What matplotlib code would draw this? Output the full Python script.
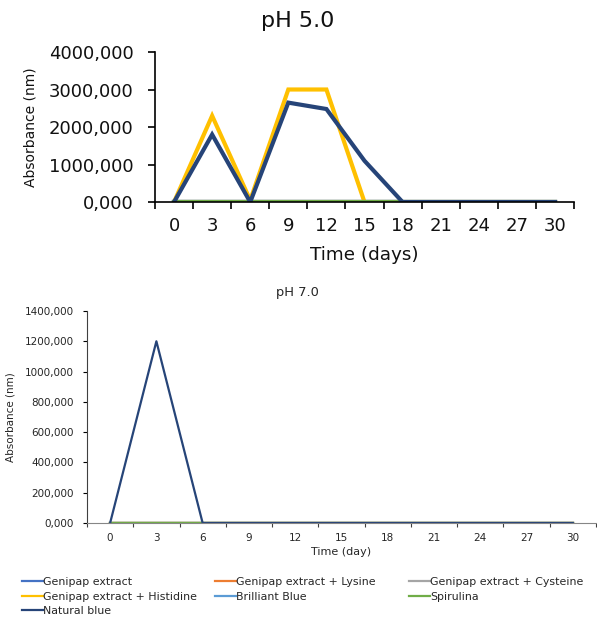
import matplotlib
matplotlib.use("Agg")
import matplotlib.pyplot as plt
from matplotlib.ticker import FuncFormatter, FixedLocator, NullFormatter
import numpy as np

days = [0, 3, 6, 9, 12, 15, 18, 21, 24, 27, 30]
series_names = ["Genipap extract", "Genipap extract + Lysine", "Genipap extract + Cysteine",
                "Genipap extract + Histidine", "Brilliant Blue", "Spirulina", "Natural blue"]
colors = ["#4472C4", "#ED7D31", "#A5A5A5", "#FFC000", "#5B9BD5", "#70AD47", "#264478"]

# pH 5.0
ph5_genipap = [0, 0, 0, 0, 0, 0, 0, 0, 0, 0, 0]
ph5_lysine = [0, 0, 0, 0, 0, 0, 0, 0, 0, 0, 0]
ph5_cysteine = [0, 0, 0, 0, 0, 0, 0, 0, 0, 0, 0]
ph5_histidine = [0, 2300, 50, 3000, 3000, 0, 0, 0, 0, 0, 0]
ph5_brilliant = [0, 0, 0, 0, 0, 0, 0, 0, 0, 0, 0]
ph5_spirulina = [0, 0, 0, 0, 0, 0, 0, 0, 0, 0, 0]
ph5_natural = [0, 1800, 0, 2650, 2480, 1100, 0, 0, 0, 0, 0]

# pH 7.0
ph7_genipap = [0, 0, 0, 0, 0, 0, 0, 0, 0, 0, 0]
ph7_lysine = [0, 0, 0, 0, 0, 0, 0, 0, 0, 0, 0]
ph7_cysteine = [0, 0, 0, 0, 0, 0, 0, 0, 0, 0, 0]
ph7_histidine = [0, 0, 0, 0, 0, 0, 0, 0, 0, 0, 0]
ph7_brilliant = [0, 0, 0, 0, 0, 0, 0, 0, 0, 0, 0]
ph7_spirulina = [2, 2, 2, 2, 2, 2, 2, 2, 2, 2, 2]
ph7_natural = [0, 1200, 0, 0, 0, 0, 0, 0, 0, 0, 0]

ph5 = [ph5_genipap, ph5_lysine, ph5_cysteine, ph5_histidine, ph5_brilliant, ph5_spirulina, ph5_natural]
ph7 = [ph7_genipap, ph7_lysine, ph7_cysteine, ph7_histidine, ph7_brilliant, ph7_spirulina, ph7_natural]

plt.rcParams['font.family'] = ['DejaVu Sans']
TXT1 = '#111111'
TXT = '#262626'

fmt = FuncFormatter(lambda v, p: f"{v:.3f}".replace('.', ','))

fig = plt.figure(figsize=(5.97, 6.18), dpi=100)

x = np.arange(len(days))

# ---- top chart
ax1 = fig.add_axes([0.2596, 0.673, 0.7019, 0.2429])
for vals, c in zip(ph5, colors):
    ax1.plot(x, vals, color=c, lw=3.0, solid_joinstyle='miter')
ax1.set_xlim(-0.5, len(days) - 0.5)
ax1.set_ylim(0, 4000)
ax1.set_yticks([0, 1000, 2000, 3000, 4000])
ax1.yaxis.set_major_formatter(fmt)
ax1.xaxis.set_major_locator(FixedLocator(np.arange(-0.5, len(days), 1.0)))
ax1.xaxis.set_major_formatter(NullFormatter())
ax1.xaxis.set_minor_locator(FixedLocator(x))
ax1.set_xticklabels([str(d) for d in days], minor=True)
ax1.tick_params(axis='x', which='minor', length=0, pad=11, labelsize=13, labelcolor=TXT1)
ax1.tick_params(axis='x', which='major', length=5, width=1.2, direction='out')
ax1.tick_params(axis='y', length=5, width=1.2, labelsize=13, pad=10.5, labelcolor=TXT1)
for s in ['top', 'right']:
    ax1.spines[s].set_visible(False)
for s in ['left', 'bottom']:
    ax1.spines[s].set_linewidth(1.2)
fig.text(0.499, 0.966, "pH 5.0", fontsize=16, ha='center', va='center', color=TXT1)
ax1.set_xlabel("Time (days)", fontsize=13.2, labelpad=8, color=TXT1)
ax1.set_ylabel("Absorbance (nm)", fontsize=10, labelpad=8, color=TXT1)

# ---- bottom chart
ax2 = fig.add_axes([0.1457, 0.1537, 0.8525, 0.3431])
handles = []
for vals, c, n in zip(ph7, colors, series_names):
    h, = ax2.plot(x, vals, color=c, lw=1.6, label=n)
    handles.append(h)
ax2.set_xlim(-0.5, len(days) - 0.5)
ax2.set_ylim(0, 1400)
ax2.set_yticks(np.arange(0, 1401, 200))
ax2.yaxis.set_major_formatter(fmt)
ax2.xaxis.set_major_locator(FixedLocator(np.arange(-0.5, len(days), 1.0)))
ax2.xaxis.set_major_formatter(NullFormatter())
ax2.xaxis.set_minor_locator(FixedLocator(x))
ax2.set_xticklabels([str(d) for d in days], minor=True)
ax2.tick_params(axis='x', which='minor', length=0, pad=7, labelsize=7.5, labelcolor=TXT)
ax2.tick_params(axis='x', which='major', length=3, width=0.8, direction='out', color='#404040')
ax2.tick_params(axis='y', length=3, width=0.8, labelsize=7.5, pad=6.5, labelcolor=TXT)
for s in ['top', 'right']:
    ax2.spines[s].set_visible(False)
ax2.spines['bottom'].set_color('#868686')
ax2.spines['left'].set_color('#404040')
fig.text(0.499, 0.526, "pH 7.0", fontsize=9.4, ha='center', va='center', color=TXT)
ax2.set_xlabel("Time (day)", fontsize=8, labelpad=3, color=TXT)
ax2.set_ylabel("Absorbance (nm)", fontsize=7.5, labelpad=6.5, color=TXT)

# legend: three columns placed separately
columns = [[0, 3, 6], [1, 4], [2, 5]]
col_x = [0.0369, 0.360, 0.685]
for idxs, cx in zip(columns, col_x):
    fig.legend([handles[i] for i in idxs], [series_names[i] for i in idxs],
               ncol=1, loc='upper left', bbox_to_anchor=(cx, 0.066), frameon=False,
               fontsize=7.9, handlelength=1.9, handletextpad=0.0,
               labelspacing=0.4, borderaxespad=0, borderpad=0, labelcolor=TXT)

fig.savefig("out.png", dpi=100)
